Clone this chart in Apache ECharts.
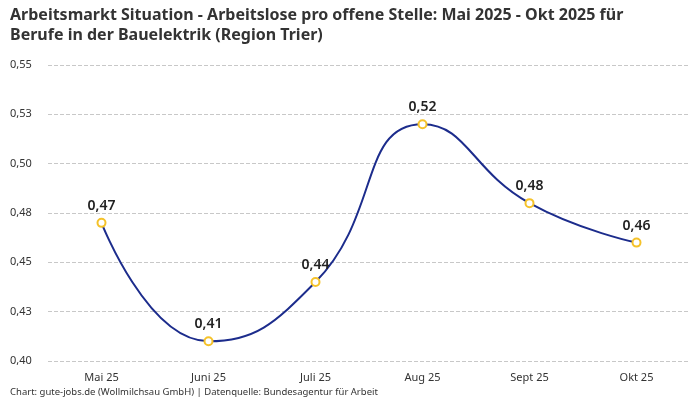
<!DOCTYPE html>
<html>
<head>
<meta charset="utf-8">
<script src="https://cdn.jsdelivr.net/npm/echarts@6/dist/echarts.min.js"></script>
<style>
  html, body { margin: 0; padding: 0; background: #fff; }
  #chart { width: 700px; height: 400px; }
</style>
</head>
<body>
<div id="chart"></div>
<script>
const months = ['Mai 25', 'Juni 25', 'Juli 25', 'Aug 25', 'Sept 25', 'Okt 25'];
const ratio = [0.47, 0.41, 0.44, 0.52, 0.48, 0.46];
const yTickLabels = ['0,40', '0,43', '0,45', '0,48', '0,50', '0,53', '0,55'];

const font = '"Noto Sans", "Open Sans", sans-serif';

const chart = echarts.init(document.getElementById('chart'));

chart.setOption({
  animation: false,
  textStyle: { fontFamily: font },
  title: {
    text: 'Arbeitsmarkt Situation - Arbeitslose pro offene Stelle: Mai 2025 - Okt 2025 für\nBerufe in der Bauelektrik (Region Trier)',
    left: 5,
    top: 0,
    textStyle: { fontSize: 16, fontWeight: 'bold', color: '#333', lineHeight: 20, fontFamily: font }
  },
  graphic: [{
    type: 'text',
    left: 10,
    top: 387,
    style: {
      text: 'Chart: gute-jobs.de (Wollmilchsau GmbH) | Datenquelle: Bundesagentur für Arbeit',
      fontSize: 9.5,
      fill: '#333',
      fontFamily: font
    }
  }],
  grid: { left: 48, right: 10, top: 65, bottom: 39 },
  xAxis: {
    type: 'category',
    data: months,
    axisLine: { show: false },
    axisTick: { show: false },
    axisLabel: { color: '#333', fontSize: 11, margin: 11 }
  },
  yAxis: {
    type: 'value',
    min: 0.4,
    max: 0.55,
    interval: 0.025,
    axisLabel: {
      color: '#333',
      fontSize: 11,
      align: 'left',
      margin: 38,
      formatter: (v, i) => yTickLabels[i]
    },
    splitLine: { lineStyle: { type: 'dashed', color: '#c8c8c8' } }
  },
  series: [{
    type: 'line',
    data: ratio,
    smooth: true,
    symbol: 'circle',
    symbolSize: 8,
    lineStyle: { color: '#1c2c8c', width: 2 },
    itemStyle: { color: '#fff', borderColor: '#f5c22a', borderWidth: 2 },
    label: {
      show: true,
      position: 'top',
      distance: 5,
      fontSize: 14,
      fontWeight: 600,
      color: '#222',
      formatter: p => p.value.toFixed(2).replace('.', ',')
    }
  }]
});
</script>
</body>
</html>
